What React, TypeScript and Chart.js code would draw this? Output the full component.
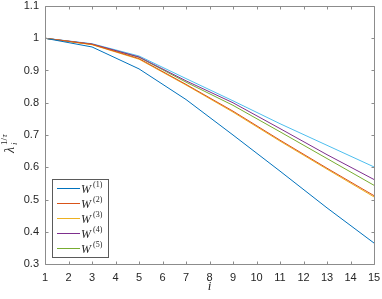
import React, { useEffect, useRef } from "react";
import { Chart, registerables } from "chart.js";

Chart.register(...registerables);

const iValues = [1, 3, 5, 7, 9, 11, 13, 15];
const w1 = [1, 0.973, 0.905, 0.81, 0.7, 0.588, 0.474, 0.365];
const w2 = [1, 0.981, 0.937, 0.857, 0.774, 0.684, 0.597, 0.512];
const w3 = [1, 0.98, 0.935, 0.855, 0.771, 0.681, 0.594, 0.508];
const w4 = [1, 0.982, 0.942, 0.868, 0.8, 0.72, 0.639, 0.562];
const w5 = [1, 0.981, 0.941, 0.864, 0.792, 0.71, 0.627, 0.544];
const w6 = [1, 0.983, 0.945, 0.875, 0.806, 0.735, 0.668, 0.601];
const seriesLabels = ["(1)", "(2)", "(3)", "(4)", "(5)"];
const colors = ["#0072BD", "#D95319", "#EDB120", "#7E2F8E", "#77AC30", "#4DBEEE"];
const xTicks = [1, 2, 3, 4, 5, 6, 7, 8, 9, 10, 11, 12, 13, 14, 15];
const yTicks = [0.3, 0.4, 0.5, 0.6, 0.7, 0.8, 0.9, 1.0, 1.1];

const FONT = "'Liberation Sans', Arial, Helvetica, sans-serif";
const SERIF = "'Liberation Serif', 'Times New Roman', serif";

const decor = {
  id: "decor",
  afterDraw(chart: any) {
    const { ctx, chartArea, scales } = chart;
    const { left, right, top, bottom } = chartArea;
    const x = scales.x;
    const y = scales.y;
    ctx.save();
    ctx.strokeStyle = "#8c8c8c";
    ctx.lineWidth = 1;
    const L = Math.round(left) + 0.5;
    const R = Math.round(right) + 0.5;
    const T = Math.round(top) + 0.5;
    const B = Math.round(bottom) + 0.5;
    ctx.beginPath();
    ctx.rect(L, T, R - L, B - T);
    ctx.stroke();
    const tl = 3;
    ctx.beginPath();
    xTicks.forEach((v) => {
      const px = Math.round(x.getPixelForValue(v)) + 0.5;
      ctx.moveTo(px, B);
      ctx.lineTo(px, B - tl);
      ctx.moveTo(px, T);
      ctx.lineTo(px, T + tl);
    });
    yTicks.forEach((v) => {
      const py = Math.round(y.getPixelForValue(v)) + 0.5;
      ctx.moveTo(L, py);
      ctx.lineTo(L + tl, py);
      ctx.moveTo(R, py);
      ctx.lineTo(R - tl, py);
    });
    ctx.stroke();

    // x title
    ctx.fillStyle = "#262626";
    ctx.font = `italic 13px ${SERIF}`;
    ctx.textAlign = "center";
    ctx.textBaseline = "alphabetic";
    ctx.fillText("i", (left + right) / 2, 290);

    // y title
    ctx.save();
    ctx.translate(14, (top + bottom) / 2 + 4);
    ctx.rotate(-Math.PI / 2);
    ctx.textAlign = "left";
    ctx.font = `italic 14px ${SERIF}`;
    ctx.fillText("λ", -14, 0);
    ctx.font = `italic 9px ${SERIF}`;
    ctx.fillText("i", -6, 3);
    ctx.font = `9px ${SERIF}`;
    ctx.fillText("1/", -6, -7);
    ctx.font = `italic 9px ${SERIF}`;
    ctx.fillText("τ", 1.5, -7);
    ctx.restore();

    // legend
    const bx = 52.5, by = 179.5, bw = 56, bh = 78;
    ctx.fillStyle = "#ffffff";
    ctx.fillRect(bx, by, bw, bh);
    ctx.strokeStyle = "#5a5a5a";
    ctx.strokeRect(bx, by, bw, bh);
    seriesLabels.forEach((lab, k) => {
      const cy = 188 + k * 15;
      ctx.strokeStyle = colors[k];
      ctx.lineWidth = 1;
      ctx.beginPath();
      ctx.moveTo(57, cy + 0.5);
      ctx.lineTo(80, cy + 0.5);
      ctx.stroke();
      ctx.fillStyle = "#262626";
      ctx.font = `italic 12px ${SERIF}`;
      ctx.textAlign = "left";
      ctx.textBaseline = "alphabetic";
      ctx.fillText("W", 81, cy + 4.5);
      ctx.font = `8px ${SERIF}`;
      ctx.fillText(lab, 93, cy - 1);
    });
    ctx.restore();
  },
};

export default function App() {
  const ref = useRef<HTMLCanvasElement>(null);
  useEffect(() => {
    document.body.style.margin = "0";
    const all = [w1, w2, w3, w4, w5, w6];
    const chart = new Chart(ref.current as HTMLCanvasElement, {
      type: "line",
      data: {
        datasets: all.map((arr, k) => ({
          label: `W${k + 1}`,
          data: arr.map((v, j) => ({ x: iValues[j], y: v })),
          borderColor: colors[k],
          backgroundColor: colors[k],
          borderWidth: 1,
          pointRadius: 0,
          tension: 0,
          fill: false,
        })),
      },
      options: {
        responsive: false,
        animation: false,
        events: [],
        layout: { padding: { left: 8, right: 8, top: 6, bottom: 0 } },
        plugins: { legend: { display: false }, tooltip: { enabled: false } },
        scales: {
          x: {
            type: "linear",
            min: 1,
            max: 15,
            afterBuildTicks: (s: any) => {
              s.ticks = xTicks.map((v) => ({ value: v }));
            },
            afterFit: (s: any) => {
              s.height = 35;
              s.paddingLeft = 0;
              s.paddingRight = 0;
            },
            grid: { display: false, drawTicks: false },
            border: { display: false },
            ticks: {
              autoSkip: false,
              maxRotation: 0,
              padding: 7,
              color: "#262626",
              font: { family: FONT, size: 11 },
              callback: (v: any) => String(v),
            },
          },
          y: {
            type: "linear",
            min: 0.3,
            max: 1.1,
            afterBuildTicks: (s: any) => {
              s.ticks = yTicks.map((v) => ({ value: v }));
            },
            afterFit: (s: any) => {
              s.width = 37;
              s.paddingTop = 0;
              s.paddingBottom = 0;
            },
            grid: { display: false, drawTicks: false },
            border: { display: false },
            ticks: {
              autoSkip: false,
              padding: 6,
              color: "#262626",
              font: { family: FONT, size: 11 },
              callback: (v: any) => String(Number(Number(v).toFixed(1))),
            },
          },
        },
      },
      plugins: [decor],
    });
    return () => chart.destroy();
  }, []);
  return (
    <div style={{ width: 382, height: 299 }}>
      <canvas ref={ref} width={382} height={299} style={{ display: "block" }} />
    </div>
  );
}
